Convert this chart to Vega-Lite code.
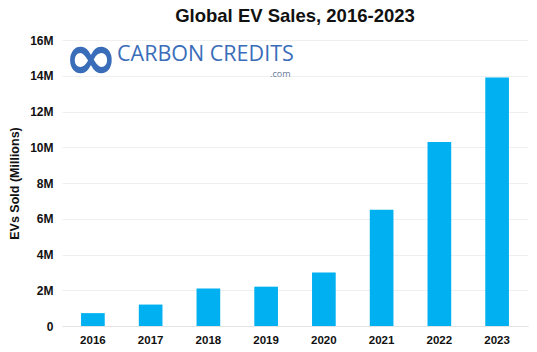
{
  "$schema": "https://vega.github.io/schema/vega-lite/v6.json",
  "width": 537,
  "height": 352,
  "autosize": {"type": "fit", "contains": "padding"},
  "padding": {"left": 8, "right": 9, "top": 11, "bottom": 6},
  "background": "white",
  "title": {"text": "Global EV Sales, 2016-2023", "font": "Liberation Sans", "fontSize": 18.5, "fontWeight": "bold", "color": "#111111", "offset": 2},
  "config": {"view": {"stroke": null}, "font": "Liberation Sans"},
  "datasets": {
    "sales": [
      {"year": "2016", "sales": 0.72},
      {"year": "2017", "sales": 1.2},
      {"year": "2018", "sales": 2.1},
      {"year": "2019", "sales": 2.2},
      {"year": "2020", "sales": 3.0},
      {"year": "2021", "sales": 6.5},
      {"year": "2022", "sales": 10.3},
      {"year": "2023", "sales": 13.9}
    ],
    "logo": [
      {"year": "2018", "sales": 14.8, "label": "CARBON CREDITS"}
    ],
    "logosub": [
      {"year": "2019", "sales": 13.95, "label": ".com"}
    ],
    "icon": [
      {"year": "2016", "sales": 14.9, "label": "∞"}
    ]
  },
  "encoding": {
    "x": {"field": "year", "type": "ordinal",
      "scale": {"paddingInner": 0.59, "paddingOuter": 0.33},
      "axis": {"title": null, "labelAngle": 0, "labelFontWeight": "bold", "labelFontSize": 11.5, "labelColor": "#111111", "ticks": false, "domain": true, "domainColor": "#e3e3e3", "labelPadding": 8}},
    "y": {"field": "sales", "type": "quantitative",
      "scale": {"domain": [0, 16]},
      "axis": {"title": "EVs Sold (Millions)", "titleFontSize": 12.5, "titleFontWeight": "bold", "titleColor": "#111111", "titlePadding": 8,
        "values": [0, 2, 4, 6, 8, 10, 12, 14, 16],
        "labelOverlap": false,
        "labelExpr": "datum.value == 0 ? '0' : datum.value + 'M'",
        "labelFontWeight": "bold", "labelFontSize": 12, "labelColor": "#111111", "labelPadding": 9,
        "ticks": false, "domain": false, "gridColor": "#efefef"}}
  },
  "layer": [
    {
      "data": {"name": "sales"},
      "mark": {"type": "bar", "color": "#00B0F0"}
    },
    {
      "data": {"name": "logo"},
      "mark": {"type": "text", "font": "Open Sans", "fontSize": 21.5, "color": "#3A6DB9", "align": "center", "baseline": "alphabetic", "dx": -3},
      "encoding": {"text": {"field": "label"}}
    },
    {
      "data": {"name": "logosub"},
      "mark": {"type": "text", "font": "Open Sans", "fontSize": 9, "color": "#6b7a99", "align": "left", "baseline": "alphabetic", "dx": 4},
      "encoding": {"text": {"field": "label"}}
    },
    {
      "data": {"name": "icon"},
      "mark": {"type": "text", "font": "DejaVu Sans", "fontSize": 64, "fontWeight": "bold", "color": "#3A6DB9", "align": "center", "baseline": "middle", "dx": -2},
      "encoding": {"text": {"field": "label"}}
    }
  ]
}
